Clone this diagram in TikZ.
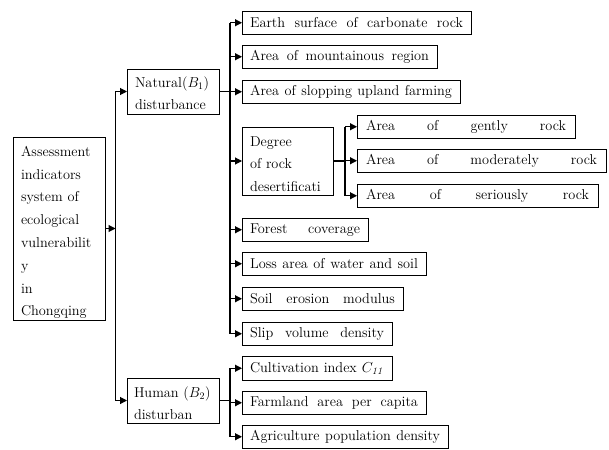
\documentclass[tikz,border=0pt]{standalone}
\usetikzlibrary{arrows.meta}
\newcommand{\fitline}[2]{\makebox[#1][s]{#2}}
\newcommand{\dn}[1]{\rule{0pt}{#1}}
\begin{document}
\begin{tikzpicture}[x=1pt,y=-1pt,
  every node/.style={font=\fontsize{14.3}{22.8}\selectfont},
  leaf/.style={draw, line width=0.8pt, anchor=north west, minimum height=23.5pt, inner xsep=8pt, inner ysep=0pt, outer sep=0pt},
  multi/.style={draw, line width=0.8pt, anchor=north west, align=left, inner xsep=8pt, inner ysep=0pt, outer sep=0pt},
  conn/.style={line width=1.1pt},
  arr/.style={line width=1.1pt, -{Triangle[length=7pt,width=7pt]}}]
\useasboundingbox (0,0) rectangle (609,449);
% root and level-1 boxes
\node[multi, minimum width=92pt, minimum height=183pt, text width=76pt] (root) at (13,137)
  {\dn{18pt}Assessment\\indicators\\system of\\ecological\\vulnerabilit\\y\\in\\Chongqing};
\node[multi, minimum width=92pt, minimum height=45pt, text width=76pt] (nat) at (127,69)
  {\dn{14pt}Natural($B_1$)\\disturbance};
\node[multi, minimum width=92pt, minimum height=45pt, text width=78pt, inner xsep=7pt] (hum) at (127,378)
  {\dn{16pt}\mbox{Human ($B_2$)}\\disturban};
% natural children
\node[leaf] (c1) at (242,11) {\fitline{213pt}{Earth surface of carbonate rock}};
\node[leaf] (c2) at (242,45) {\fitline{179pt}{Area of mountainous region}};
\node[leaf] (c3) at (242,80) {\fitline{202pt}{Area of slopping upland farming}};
\node[multi, minimum width=91pt, minimum height=68pt, text width=75pt] (deg) at (242,127)
  {\dn{16pt}Degree\\of rock\\desertificati};
\node[leaf] (c5) at (242,218) {\fitline{110pt}{Forest coverage}};
\node[leaf] (c6) at (242,252) {\fitline{168pt}{Loss area of water and soil}};
\node[leaf] (c7) at (242,287) {\fitline{145pt}{Soil erosion modulus}};
\node[leaf] (c8) at (242,322) {\fitline{134pt}{Slip volume density}};
% rock desertification children
\node[leaf, inner xsep=9pt] (g1) at (357,115) {\fitline{200pt}{Area of gently rock}};
\node[leaf, inner xsep=9pt] (g2) at (357,149) {\fitline{231pt}{Area of moderately rock}};
\node[leaf, inner xsep=9pt] (g3) at (357,184) {\fitline{223pt}{Area of seriously rock}};
% human children
\node[leaf] (h1) at (242,356.5) {\fitline{134pt}{Cultivation index $C_{\mathit{11}}$}};
\node[leaf] (h2) at (242,391) {\fitline{168pt}{Farmland area per capita}};
\node[leaf] (h3) at (242,425) {\fitline{190pt}{Agriculture population density}};
% trunk positions
\coordinate (tx) at (115.5,0);
\coordinate (nx) at (230,0);
\coordinate (dx) at (345,0);
% root -> level 1
\draw[conn] (tx |- nat.west) -- (tx |- hum.west);
\draw[arr] (root.east) -- (root.east -| tx);
\draw[arr] (tx |- nat.west) -- (nat.west);
\draw[arr] (tx |- hum.west) -- (hum.west);
% natural -> children
\draw[conn] (nat.east) -- (nat.east -| nx);
\draw[conn] (nx |- c1.west) -- (nx |- c8.west);
\foreach \n in {c1,c2,c3,deg,c5,c6,c7,c8}
  \draw[arr] (nx |- \n.west) -- (\n.west);
% degree -> children
\draw[conn] (deg.east) -- (deg.east -| dx);
\draw[conn] (dx |- g1.west) -- (dx |- g3.west);
\foreach \n in {g1,g2,g3}
  \draw[arr] (dx |- \n.west) -- (\n.west);
% human -> children
\draw[conn] (hum.east) -- (hum.east -| nx);
\draw[conn] (nx |- h1.west) -- (nx |- h3.west);
\foreach \n in {h1,h2,h3}
  \draw[arr] (nx |- \n.west) -- (\n.west);
\end{tikzpicture}
\end{document}
